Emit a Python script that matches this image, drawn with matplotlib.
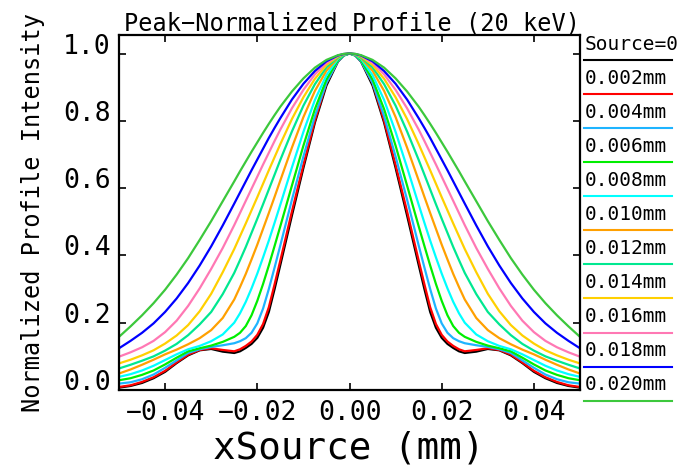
import numpy as np
import matplotlib
matplotlib.use("Agg")
import matplotlib.pyplot as plt
from matplotlib.lines import Line2D

# half profile (x >= 0), curves are symmetric about x = 0
x_half = [0.0, 0.00125, 0.0025, 0.005, 0.0075, 0.01, 0.0125, 0.015, 0.01625, 0.0175,
          0.01875, 0.02, 0.02125, 0.0225, 0.02375, 0.025, 0.0275, 0.03, 0.0325, 0.035,
          0.0375, 0.04, 0.0425, 0.045, 0.0475, 0.05]

src_000 = [1.000, 0.994, 0.976, 0.905, 0.795, 0.660, 0.518, 0.372, 0.300, 0.232,
           0.185, 0.155, 0.137, 0.125, 0.115, 0.110, 0.114, 0.122, 0.118, 0.103,
           0.080, 0.054, 0.035, 0.021, 0.012, 0.007]
src_002 = [1.000, 0.995, 0.978, 0.912, 0.801, 0.669, 0.530, 0.385, 0.314, 0.246,
           0.196, 0.164, 0.144, 0.131, 0.121, 0.115, 0.119, 0.124, 0.119, 0.105,
           0.082, 0.057, 0.038, 0.024, 0.014, 0.009]
src_004 = [1.000, 0.994, 0.977, 0.913, 0.814, 0.694, 0.565, 0.430, 0.364, 0.300,
           0.242, 0.198, 0.170, 0.154, 0.145, 0.139, 0.133, 0.128, 0.121, 0.110,
           0.088, 0.066, 0.046, 0.032, 0.023, 0.019]
src_006 = [1.000, 0.995, 0.980, 0.923, 0.835, 0.726, 0.607, 0.487, 0.428, 0.370,
           0.315, 0.265, 0.222, 0.190, 0.170, 0.158, 0.143, 0.132, 0.124, 0.115,
           0.096, 0.076, 0.058, 0.045, 0.035, 0.029]
src_008 = [1.000, 0.996, 0.984, 0.936, 0.862, 0.767, 0.661, 0.551, 0.497, 0.444,
           0.394, 0.346, 0.302, 0.262, 0.228, 0.200, 0.165, 0.145, 0.131, 0.121,
           0.106, 0.089, 0.072, 0.058, 0.047, 0.039]
src_010 = [1.000, 0.997, 0.987, 0.949, 0.889, 0.811, 0.720, 0.623, 0.574, 0.526,
           0.479, 0.432, 0.388, 0.345, 0.306, 0.269, 0.214, 0.178, 0.154, 0.136,
           0.120, 0.106, 0.090, 0.075, 0.061, 0.049]
src_012 = [1.000, 0.997, 0.989, 0.959, 0.909, 0.845, 0.768, 0.684, 0.640, 0.596,
           0.552, 0.509, 0.467, 0.425, 0.386, 0.348, 0.285, 0.232, 0.195, 0.163,
           0.137, 0.117, 0.100, 0.087, 0.075, 0.064]
src_014 = [1.000, 0.998, 0.991, 0.966, 0.925, 0.870, 0.805, 0.731, 0.692, 0.653,
           0.613, 0.573, 0.534, 0.495, 0.457, 0.419, 0.350, 0.286, 0.234, 0.193,
           0.162, 0.138, 0.118, 0.103, 0.090, 0.079]
src_016 = [1.000, 0.998, 0.993, 0.972, 0.938, 0.892, 0.837, 0.774, 0.740, 0.705,
           0.670, 0.634, 0.598, 0.562, 0.526, 0.490, 0.422, 0.360, 0.302, 0.250,
           0.206, 0.172, 0.146, 0.127, 0.112, 0.099]
src_018 = [1.000, 0.9985, 0.994, 0.977, 0.948, 0.910, 0.863, 0.808, 0.779, 0.749,
           0.717, 0.685, 0.653, 0.620, 0.587, 0.554, 0.489, 0.427, 0.370, 0.318,
           0.272, 0.232, 0.198, 0.170, 0.146, 0.124]
src_020 = [1.000, 0.999, 0.995, 0.981, 0.958, 0.926, 0.887, 0.842, 0.817, 0.791,
           0.764, 0.736, 0.708, 0.679, 0.650, 0.620, 0.561, 0.502, 0.446, 0.392,
           0.343, 0.298, 0.258, 0.222, 0.189, 0.158]

labels = ["Source=0", "0.002mm", "0.004mm", "0.006mm", "0.008mm", "0.010mm",
          "0.012mm", "0.014mm", "0.016mm", "0.018mm", "0.020mm"]
colors = ["#000000", "#ff0000", "#1eb4ff", "#00ee00", "#00ffff", "#ffa000",
          "#00e890", "#ffd000", "#ff78b4", "#0000ff", "#3cc83c"]
profiles = [src_000, src_002, src_004, src_006, src_008, src_010,
            src_012, src_014, src_016, src_018, src_020]

mono = "DejaVu Sans Mono"
W, H = 685, 469

fig = plt.figure(figsize=(6.85, 4.69), dpi=100)
ax = fig.add_axes([119 / W, 1 - 390 / H, 461 / W, 355 / H])

xh = np.array(x_half)
x_full = np.concatenate([-xh[::-1], xh[1:]])
for prof, col in zip(profiles, colors):
    p = np.array(prof)
    y_full = np.concatenate([p[::-1], p[1:]])
    ax.plot(x_full, y_full, color=col, lw=1.6, solid_joinstyle="round")

ax.set_xlim(-0.05, 0.05)
ax.set_ylim(0, 1.055)
ax.set_xticks([-0.04, -0.02, 0.0, 0.02, 0.04])
ax.set_xticklabels(["\u22120.04", "\u22120.02", "0.00", "0.02", "0.04"])
ax.set_yticks([0.0, 0.2, 0.4, 0.6, 0.8, 1.0])
ax.set_yticklabels(["0.0", "0.2", "0.4", "0.6", "0.8", "1.0"])
ax.tick_params(direction="in", top=True, right=True, length=5, width=1.2,
               labelsize=19, pad=7)
ax.tick_params(axis="y", pad=6)
for lab in ax.get_xticklabels() + ax.get_yticklabels():
    lab.set_family(mono)
for lab in ax.get_yticklabels():
    lab.set_va("baseline")
for s in ax.spines.values():
    s.set_linewidth(1.6)

fig.text(352 / W, 1 - 31 / H, "Peak\u2212Normalized Profile (20 keV)", family=mono,
         fontsize=17, ha="center", va="baseline")
fig.text(349 / W, 1 - 458 / H, "xSource (mm)", family=mono, fontsize=27,
         ha="center", va="baseline")
fig.text(33 / W, 1 - 212 / H, "Normalized Profile Intensity", family=mono,
         fontsize=17, rotation=90, ha="center", va="center")

# legend column on the right
for i, (lab, col) in enumerate(zip(labels, colors)):
    yl = 60 + 34.07 * i
    fig.text(585 / W, 1 - (yl - 16) / H, lab, family=mono, fontsize=14,
             ha="left", va="center")
    fig.add_artist(Line2D([584 / W, 672 / W], [1 - yl / H, 1 - yl / H],
                          color=col, lw=1.5, transform=fig.transFigure))

fig.savefig("out.png", dpi=100)
